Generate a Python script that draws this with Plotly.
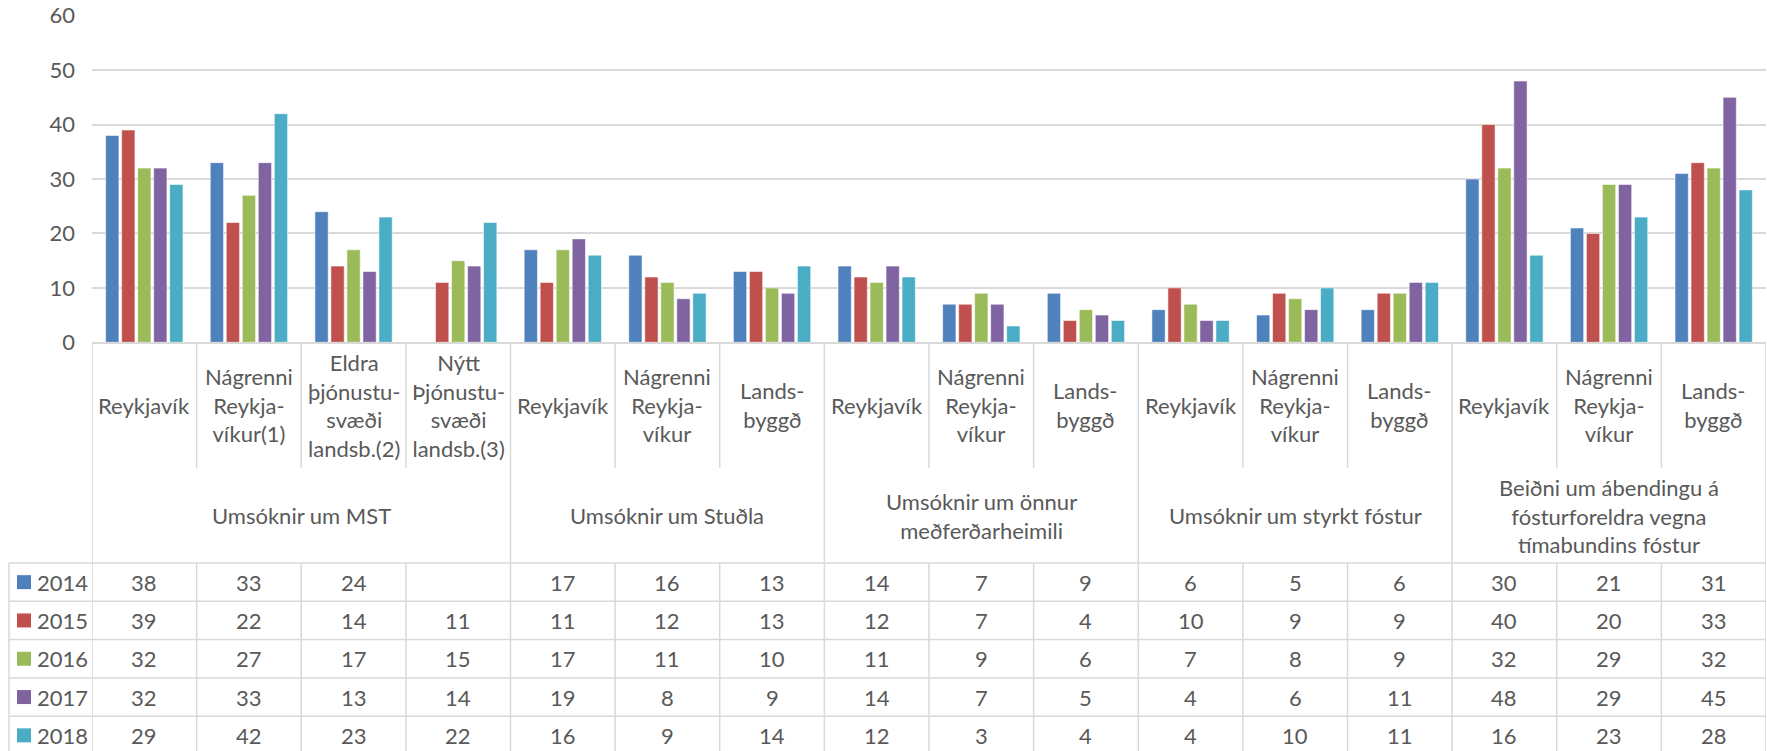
import plotly.graph_objects as go

# ---------------- data ----------------
years = ["2014", "2015", "2016", "2017", "2018"]
subcats = ["Reykjavík", "Nágrenni<br>Reykja-<br>víkur(1)", "Eldra<br>þjónustu-<br>svæði<br>landsb.(2)",
           "Nýtt<br>Þjónustu-<br>svæði<br>landsb.(3)",
           "Reykjavík", "Nágrenni<br>Reykja-<br>víkur", "Lands-<br>byggð",
           "Reykjavík", "Nágrenni<br>Reykja-<br>víkur", "Lands-<br>byggð",
           "Reykjavík", "Nágrenni<br>Reykja-<br>víkur", "Lands-<br>byggð",
           "Reykjavík", "Nágrenni<br>Reykja-<br>víkur", "Lands-<br>byggð"]
group_names = ["Umsóknir um MST", "Umsóknir um Stuðla", "Umsóknir um önnur<br>meðferðarheimili",
               "Umsóknir um styrkt fóstur",
               "Beiðni um ábendingu á<br>fósturforeldra vegna<br>tímabundins fóstur"]
group_sizes = [4, 3, 3, 3, 3]

v2014 = [38, 33, 24, None, 17, 16, 13, 14, 7, 9, 6, 5, 6, 30, 21, 31]
v2015 = [39, 22, 14, 11, 11, 12, 13, 12, 7, 4, 10, 9, 9, 40, 20, 33]
v2016 = [32, 27, 17, 15, 17, 11, 10, 11, 9, 6, 7, 8, 9, 32, 29, 32]
v2017 = [32, 33, 13, 14, 19, 8, 9, 14, 7, 5, 4, 6, 11, 48, 29, 45]
v2018 = [29, 42, 23, 22, 16, 9, 14, 12, 3, 4, 4, 10, 11, 16, 23, 28]
series = [v2014, v2015, v2016, v2017, v2018]
colors = ["#4F81BD", "#C0504D", "#9BBB59", "#8064A2", "#4BACC6"]

y_ticks = [0, 10, 20, 30, 40, 50, 60]

# ---------------- geometry ----------------
W, H = 1767, 751
PLOT_L, PLOT_R = 92, 1766
Y0_PX, Y60_PX = 342.3, 15.7
SUB_BOT = 468
GRP_BOT = 563
ROW_H = 38.3
LEG_L = 9
FONT = "Lato, 'Open Sans', sans-serif"
TXT = "#595959"
LINE = "#d9d9d9"
FS = 22


def py(p):
    return (H - p) / H


def px(p):
    return p / W


n = len(subcats)
x_idx = list(range(n))

fig = go.Figure()
for yr, vals, c in zip(years, series, colors):
    fig.add_trace(go.Bar(x=x_idx, y=vals, name=yr,
                         marker=dict(color=c, line=dict(color="rgba(255,255,255,0.7)", width=0.8)),
                         showlegend=False))

shapes = []
annotations = []

# subcategory labels
for i, lab in enumerate(subcats):
    annotations.append(dict(x=i, y=py((Y0_PX + SUB_BOT) / 2), xref="x", yref="paper", text=lab,
                            showarrow=False, font=dict(family=FONT, size=FS, color=TXT),
                            xanchor="center", yanchor="middle", align="center"))

# group labels and group boundaries
start = 0
bounds = [0]
for g, sz in zip(group_names, group_sizes):
    annotations.append(dict(x=start + (sz - 1) / 2, y=py((SUB_BOT + GRP_BOT) / 2), xref="x", yref="paper",
                            text=g, showarrow=False, font=dict(family=FONT, size=FS, color=TXT),
                            xanchor="center", yanchor="middle", align="center"))
    start += sz
    bounds.append(start)

# vertical lines
for k in range(n + 1):
    xk = k - 0.5
    if k in bounds:
        shapes.append(dict(type="line", xref="x", yref="paper", x0=xk, x1=xk, y0=py(Y0_PX), y1=py(H + 5),
                           line=dict(color=LINE, width=1.5)))
    else:
        shapes.append(dict(type="line", xref="x", yref="paper", x0=xk, x1=xk, y0=py(Y0_PX), y1=py(SUB_BOT),
                           line=dict(color=LINE, width=1.5)))
        shapes.append(dict(type="line", xref="x", yref="paper", x0=xk, x1=xk, y0=py(GRP_BOT), y1=py(H + 5),
                           line=dict(color=LINE, width=1.5)))

# legend column left edge
shapes.append(dict(type="line", xref="paper", yref="paper", x0=px(LEG_L), x1=px(LEG_L), y0=py(GRP_BOT), y1=py(H + 5),
                   line=dict(color=LINE, width=1.5)))

# horizontal lines of data rows
for r in range(len(years) + 1):
    yy = GRP_BOT + r * ROW_H
    shapes.append(dict(type="line", xref="paper", yref="paper", x0=px(LEG_L), x1=px(PLOT_R), y0=py(yy), y1=py(yy),
                       line=dict(color=LINE, width=1.5)))

# data rows
for r, (yr, vals, c) in enumerate(zip(years, series, colors)):
    yc = GRP_BOT + (r + 0.5) * ROW_H
    shapes.append(dict(type="rect", xref="paper", yref="paper", x0=px(17), x1=px(31), y0=py(yc - 7), y1=py(yc + 7),
                       fillcolor=c, line=dict(width=0)))
    annotations.append(dict(x=px(35), y=py(yc), xref="paper", yref="paper", text=yr, showarrow=False,
                            font=dict(family=FONT, size=FS, color=TXT), xanchor="left", yanchor="middle"))
    for i, v in enumerate(vals):
        if v is None:
            continue
        annotations.append(dict(x=i, y=py(yc), xref="x", yref="paper", text=str(v), showarrow=False,
                                font=dict(family=FONT, size=FS, color=TXT), xanchor="center", yanchor="middle"))

fig.update_layout(
    width=W, height=H, autosize=False,
    margin=dict(l=0, r=0, t=0, b=0, pad=0),
    paper_bgcolor="white", plot_bgcolor="white",
    barmode="group", bargap=0.235, bargroupgap=0.17,
    shapes=shapes, annotations=annotations,
    xaxis=dict(domain=[px(PLOT_L), px(PLOT_R)], range=[-0.5, n - 0.5], showticklabels=False, automargin=False,
               showgrid=False, zeroline=False, showline=True, linecolor=LINE, linewidth=1.5, fixedrange=True),
    yaxis=dict(domain=[py(Y0_PX), py(Y60_PX)], range=[0, 60], tickvals=y_ticks, automargin=False,
               showgrid=True, gridcolor=LINE, gridwidth=1.5, zeroline=False, showline=False,
               tickfont=dict(family=FONT, size=FS, color=TXT), ticks="", ticklabelstandoff=16, fixedrange=True),
)

fig.write_html("out.html", config={"displayModeBar": False},
               post_script="document.body.style.margin='0';document.body.style.overflow='hidden';")
